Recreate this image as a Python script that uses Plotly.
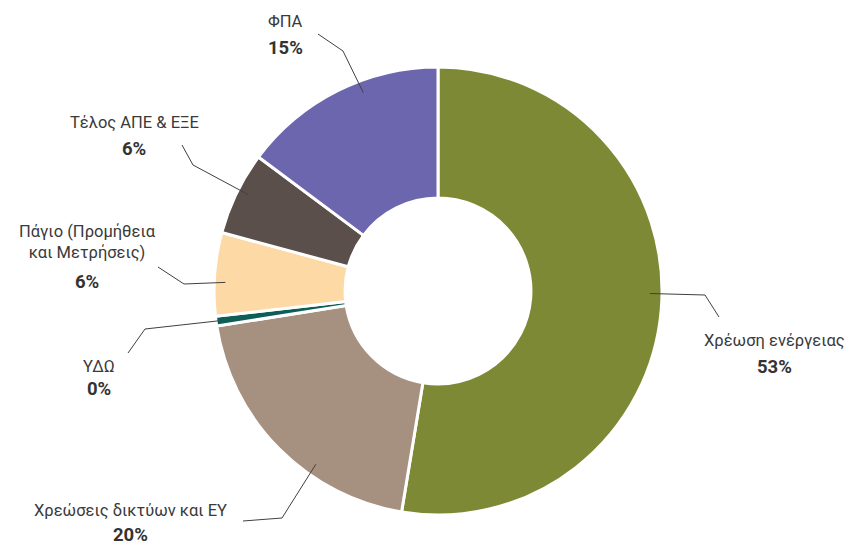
import math
import plotly.graph_objects as go

# ---- data ----
categories = ["Χρέωση ενέργειας", "Χρεώσεις δικτύων και ΕΥ", "ΥΔΩ",
              "Πάγιο (Προμήθεια<br>και Μετρήσεις)", "Τέλος ΑΠΕ & ΕΞΕ", "ΦΠΑ"]
values = [52.6, 19.9, 0.7, 6.0, 6.0, 14.8]
pct_labels = ["53%", "20%", "0%", "6%", "6%", "15%"]
colors = ["#7E8936", "#A69080", "#0D5E57", "#FDD9A6", "#5B4F4B", "#6B66AE"]

# page body has an 8px margin; figure occupies screen px 8..854 x 8..546
OFF = 8
W, H = 854 - OFF, 546 - OFF
CX, CY, R = 438, 291, 224   # screen pixels

# label layout (screen pixel positions of text and leader elbows)
label_layout = [
    dict(tx=774, ty=340, py=367, elbow=(705, 295), end=(719, 317), aoff=-4, rf=0.946),
    dict(tx=130, ty=510, py=535, elbow=(282, 518), end=(243, 521), aoff=-10, rf=0.946),
    dict(tx=99, ty=366, py=389, elbow=(145, 329), end=(128, 353), aoff=0, rf=0.99),
    dict(tx=87, ty=242, py=282, elbow=(184, 284), end=(158, 267), aoff=-2, rf=0.95),
    dict(tx=134, ty=123, py=149, elbow=(193, 165), end=(182, 145), aoff=1, rf=0.95),
    dict(tx=285, ty=22, py=48, elbow=(343, 51), end=(318, 34), aoff=6, rf=0.946),
]

def px(x, y):
    return (x - OFF) / W, 1 - (y - OFF) / H

x0, y1 = px(CX - R, CY - R)
x1, y0 = px(CX + R, CY + R)

fig = go.Figure(go.Pie(
    labels=categories, values=values, sort=False, direction="clockwise",
    rotation=0, hole=0.415, textinfo="none", hoverinfo="none",
    marker=dict(colors=colors, line=dict(color="white", width=3)),
    domain=dict(x=[x0, x1], y=[y0, y1]),
    showlegend=False,
))

total = sum(values)
cum = 0
shapes, annotations = [], []
for v, name, pct, lay in zip(values, categories, pct_labels, label_layout):
    mid = (cum + v / 2) / total * 360 + lay["aoff"]
    cum += v
    a = math.radians(mid)
    sx = CX + R * lay["rf"] * math.sin(a)
    sy = CY - R * lay["rf"] * math.cos(a)
    pts = [(sx, sy), lay["elbow"], lay["end"]]
    path = "M " + " L ".join(f"{px(*p)[0]},{px(*p)[1]}" for p in pts)
    shapes.append(dict(type="path", path=path, xref="paper", yref="paper",
                       line=dict(color="#404040", width=1)))
    ax, ay = px(lay["tx"], lay["ty"])
    annotations.append(dict(x=ax, y=ay, xref="paper", yref="paper",
                            text=name, showarrow=False, xanchor="center", yanchor="middle",
                            font=dict(family="Roboto", size=16.5, color="#3a3a3a")))
    bx, by = px(lay["tx"], lay["py"])
    annotations.append(dict(x=bx, y=by, xref="paper", yref="paper",
                            text=f"<b>{pct}</b>", showarrow=False, xanchor="center", yanchor="middle",
                            font=dict(family="Roboto", size=18.5, color="#333333")))

fig.update_layout(width=W, height=H, margin=dict(l=0, r=0, t=0, b=0),
                  paper_bgcolor="white", plot_bgcolor="white",
                  shapes=shapes, annotations=annotations)
fig.write_html("out.html")
